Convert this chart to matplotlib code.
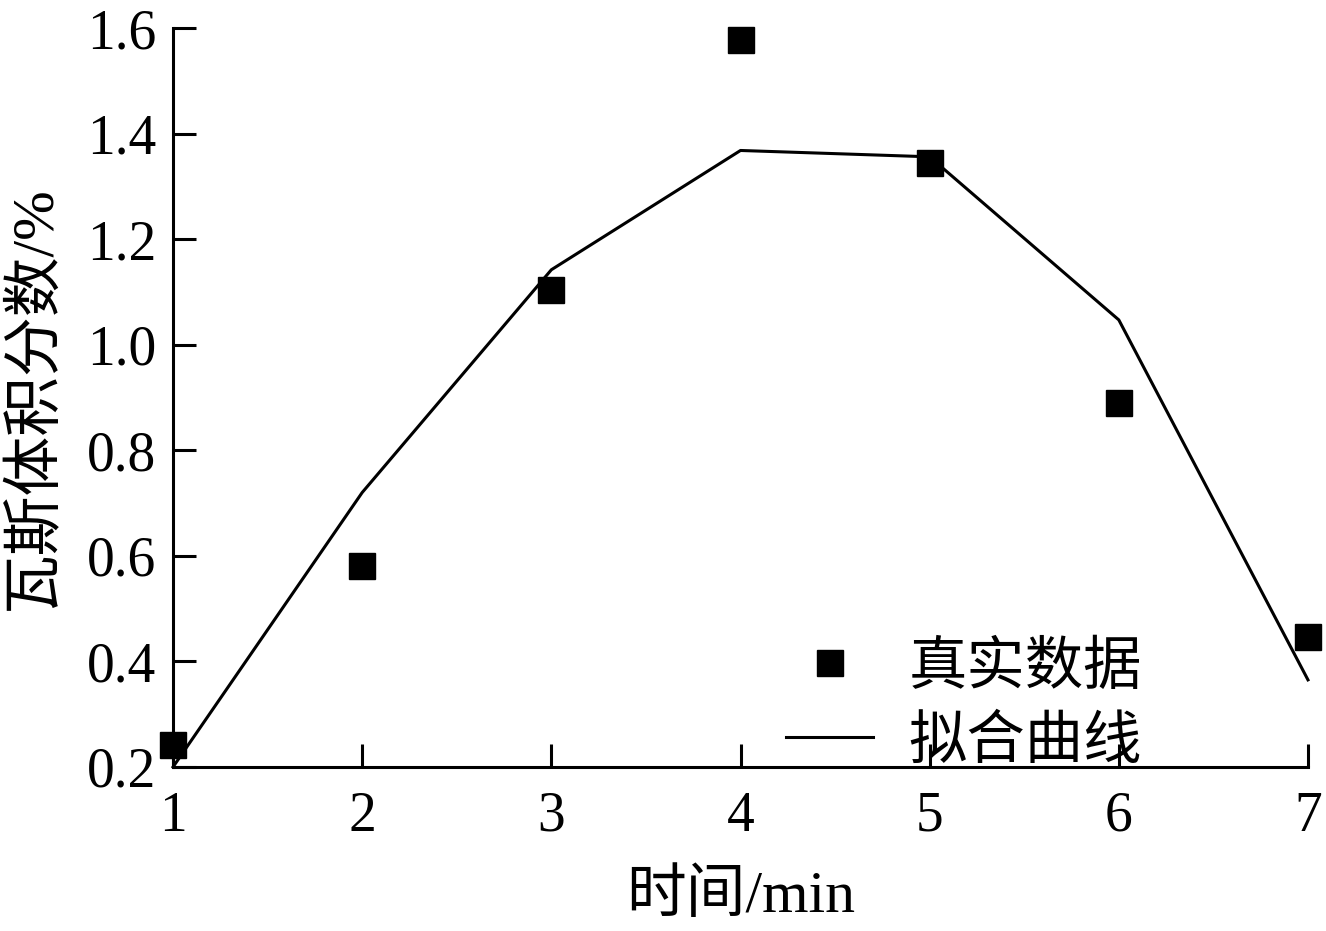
import matplotlib
matplotlib.use("Agg")
from matplotlib import pyplot as plt

# Datos
tiempo = [1, 2, 3, 4, 5, 6, 7]
real = [0.242, 0.58, 1.104, 1.577, 1.345, 0.889, 0.446]
ajuste = [0.2, 0.72, 1.142, 1.368, 1.356, 1.047, 0.365]
y_ticks = [0.2, 0.4, 0.6, 0.8, 1.0, 1.2, 1.4, 1.6]

plt.rcParams['font.family'] = ['Liberation Serif', 'Noto Sans CJK SC']
plt.rcParams['font.size'] = 40

fig = plt.figure(figsize=(13.26, 9.31), dpi=100)
ax = fig.add_axes([0.1305, 0.1762, 0.8559, 0.7937])

ax.plot(tiempo, real, 's', color='black', markersize=19, clip_on=False, label='真实数据', zorder=3)
ax.plot(tiempo, ajuste, '-', color='black', linewidth=2.2, clip_on=False, label='拟合曲线')

ax.set_xlim(1, 7)
ax.set_ylim(0.2, 1.6)
ax.set_xticks(tiempo)
ax.set_yticks(y_ticks)
ax.set_yticklabels(['%.1f' % v for v in y_ticks])

ax.spines['top'].set_visible(False)
ax.spines['right'].set_visible(False)
ax.spines['left'].set_linewidth(2.2)
ax.spines['bottom'].set_linewidth(2.2)
ax.tick_params(direction='in', length=16.5, width=2.2, labelsize=40)
ax.tick_params(axis='x', pad=17)
ax.tick_params(axis='y', pad=12)

ax.set_xlabel('时间/min', fontsize=43, labelpad=20)
ax.set_ylabel('瓦斯体积分数/%', fontsize=43, labelpad=17)

ax.legend(loc='lower right', bbox_to_anchor=(0.9, -0.075), frameon=False, fontsize=42,
          handlelength=1.5, handletextpad=0.6, labelspacing=0.34)

plt.savefig("out.png", dpi=100)
